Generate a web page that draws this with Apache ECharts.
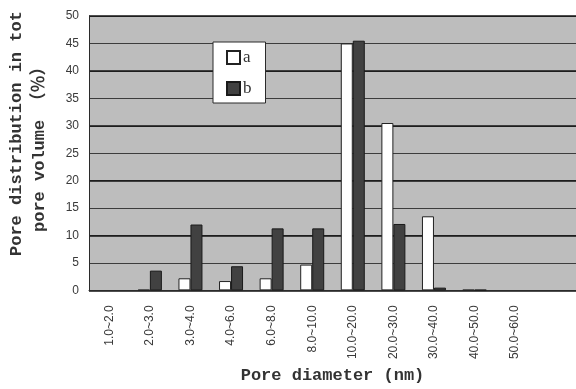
<!DOCTYPE html>
<html>
<head>
<meta charset="utf-8">
<script src="https://cdn.jsdelivr.net/npm/echarts@6/dist/echarts.min.js"></script>
<style>
  html, body { margin: 0; padding: 0; background: #fff; }
  #chart { width: 576px; height: 389px; }
</style>
</head>
<body>
<div id="chart"></div>
<script>
// Pore size classes (nm); the last slot is an empty class on the axis
const categories = ['1.0~2.0', '2.0~3.0', '3.0~4.0', '4.0~6.0', '6.0~8.0', '8.0~10.0',
  '10.0~20.0', '20.0~30.0', '30.0~40.0', '40.0~50.0', '50.0~60.0', ''];
// Share of total pore volume (%) per class; null = no pores measured in that class
const seriesA = [null, 0.1, 2.2, 1.7, 2.2, 4.7, 45.0, 30.5, 13.5, 0.1, null, null];
const seriesB = [null, 3.6, 12.0, 4.4, 11.3, 11.3, 45.5, 12.1, 0.5, 0.1, null, null];
const yTicks = { min: 0, max: 50, interval: 5 };

const monoFont = "'Liberation Mono', 'DejaVu Sans Mono', monospace";
const tickFont = "'Liberation Sans Narrow', 'Liberation Sans', Arial, sans-serif";

const chart = echarts.init(document.getElementById('chart'), null, { renderer: 'canvas' });

chart.setOption({
  animation: false,
  backgroundColor: '#ffffff',
  grid: {
    left: 89, top: 16, right: 0, bottom: 96,
    show: true, backgroundColor: '#bdbdbd', borderWidth: 0
  },
  legend: {
    orient: 'vertical',
    left: 213, top: 42,
    padding: [7, 14, 6, 13],
    backgroundColor: '#ffffff',
    borderColor: '#2a2a2a', borderWidth: 1,
    itemWidth: 13, itemHeight: 13, itemGap: 14,
    icon: 'rect',
    textStyle: { fontFamily: "'Liberation Serif', serif", fontSize: 17, color: '#333', padding: [0, 0, 0, -2] },
    data: ['a', 'b']
  },
  xAxis: {
    type: 'category',
    data: categories,
    axisLine: { lineStyle: { color: '#2a2a2a', width: 1 } },
    axisTick: { inside: true, length: 3, lineStyle: { color: '#2a2a2a' } },
    axisLabel: {
      interval: 0, rotate: 90, margin: 15,
      fontFamily: tickFont, fontSize: 12, color: '#3a3a3a'
    },
    name: 'Pore diameter (nm)',
    nameLocation: 'middle', nameGap: 72,
    nameTextStyle: { fontFamily: monoFont, fontSize: 17, fontWeight: 'bold', color: '#333' }
  },
  yAxis: [
    {
      type: 'value',
      min: yTicks.min, max: yTicks.max, interval: yTicks.interval,
      axisLine: { show: true, lineStyle: { color: '#2a2a2a', width: 1 } },
      axisTick: { show: false },
      axisLabel: { margin: 10, fontFamily: tickFont, fontSize: 12, color: '#3a3a3a' },
      splitLine: { show: true, lineStyle: { color: '#3c3c3c', width: 1 } }
    },
    {
      // heavier rules every 10 %
      type: 'value', position: 'left',
      min: yTicks.min, max: yTicks.max, interval: 10,
      axisLine: { show: false }, axisTick: { show: false }, axisLabel: { show: false },
      splitLine: { show: true, lineStyle: { color: '#151515', width: 1.6 } }
    }
  ],
  series: [
    {
      name: 'a', type: 'bar', data: seriesA, yAxisIndex: 0,
      barWidth: 12, barGap: '0%',
      itemStyle: { color: '#ffffff', borderColor: '#222', borderWidth: 1 }
    },
    {
      name: 'b', type: 'bar', data: seriesB, yAxisIndex: 0,
      barWidth: 12, barGap: '0%',
      itemStyle: { color: '#414141', borderColor: '#1a1a1a', borderWidth: 1 }
    }
  ],
  graphic: [
    {
      type: 'text', x: 17, y: 256, rotation: Math.PI / 2,
      style: {
        text: 'Pore distribution in tot',
        font: "bold 17px 'Liberation Mono', monospace",
        fill: '#333', textAlign: 'left', textVerticalAlign: 'middle'
      }
    },
    {
      type: 'text', x: 40, y: 232, rotation: Math.PI / 2,
      style: {
        text: 'pore volume （％）',
        font: "bold 17px 'Liberation Mono', 'Noto Sans CJK SC', monospace",
        fill: '#333', textAlign: 'left', textVerticalAlign: 'middle'
      }
    }
  ]
});
</script>
</body>
</html>
